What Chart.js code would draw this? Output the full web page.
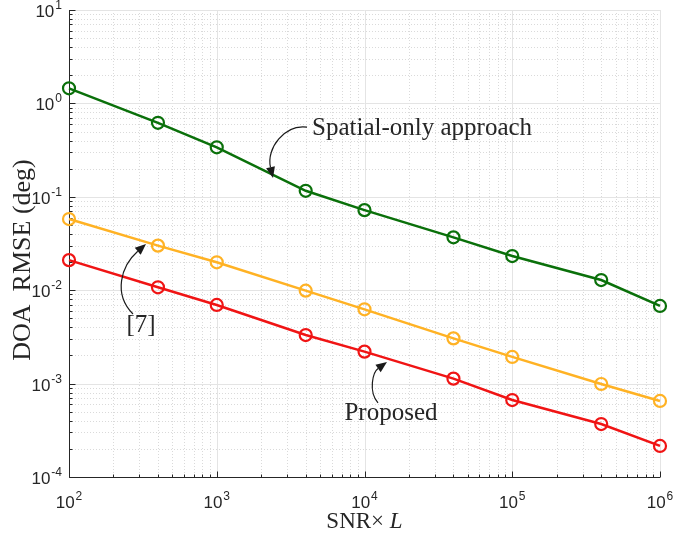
<!DOCTYPE html>
<html>
<head>
<meta charset="utf-8">
<script src="https://cdn.jsdelivr.net/npm/chart.js@4.4.0/dist/chart.umd.min.js"></script>
<style>
body { margin: 0; background: #fff; }
</style>
</head>
<body>
<canvas id="myChart" width="674" height="535"></canvas>
<script>
// values (log-log)
var snrL = [1e2, 4e2, 1e3, 4e3, 1e4, 4e4, 1e5, 4e5, 1e6];
var spatialOnly = [1.45, 0.62, 0.339, 0.116, 0.072, 0.0368, 0.0232, 0.01285, 0.00678];
var ref7 = [0.0578, 0.030, 0.0199, 0.00989, 0.00624, 0.00305, 0.00193, 0.00099, 0.000652];
var proposed = [0.021, 0.01074, 0.00695, 0.00331, 0.0022, 0.00113, 0.000667, 0.000369, 0.000215];
var xTickExps = [2, 3, 4, 5, 6];
var yTickExps = [1, 0, -1, -2, -3, -4];

// annotation anchors, in data units
var notes = [
    { text: 'Spatial-only approach', tx: 4415, ty: 0.545, align: 'left',
      sx: 4083, sy: 0.556, ex: 2403, ey: 0.159, c1: [-22, -3], c2: [-7, -30] },
    { text: '[7]', tx: 307, ty: 0.00424, align: 'center',
      sx: 271, sy: 0.00556, ex: 332, ey: 0.03125, c1: [-20, -20], c2: [-25, 22] },
    { text: 'Proposed', tx: 15110, ty: 0.000484, align: 'center',
      sx: 12340, sy: 0.00062, ex: 14200, ey: 0.0017, c1: [-10, -12], c2: [-14, 10] }
];

function pts(arr) {
    return snrL.map(function (x, i) { return { x: x, y: arr[i] }; });
}

var axisColor = '#262626';

function drawPow(ctx, x, y, exp, align) {
    // "10" with a raised exponent; align = 'right' or 'center'
    ctx.font = '17px "Liberation Sans", Arial, sans-serif';
    var wBase = ctx.measureText('10').width;
    ctx.font = '12px "Liberation Sans", Arial, sans-serif';
    var wExp = ctx.measureText(String(exp)).width;
    var total = wBase + wExp + 1;
    var left = align === 'right' ? x - total : x - total / 2;
    ctx.textAlign = 'left';
    ctx.textBaseline = 'alphabetic';
    ctx.font = '17px "Liberation Sans", Arial, sans-serif';
    ctx.fillText('10', left, y);
    ctx.font = '12px "Liberation Sans", Arial, sans-serif';
    ctx.fillText(String(exp), left + wBase + 1, y - 8);
}

var matlabAxes = {
    id: 'matlabAxes',
    beforeDraw: function (chart) {
        var ctx = chart.ctx;
        ctx.save();
        ctx.fillStyle = '#fff';
        ctx.fillRect(0, 0, chart.width, chart.height);
        ctx.restore();
    },
    beforeDatasetsDraw: function (chart) {
        var ctx = chart.ctx, a = chart.chartArea;
        var xs = chart.scales.x, ys = chart.scales.y;
        ctx.save();
        ctx.lineWidth = 1;
        // minor grid, dotted
        ctx.strokeStyle = '#dadada';
        ctx.setLineDash([1, 2]);
        for (var e = 2; e < 6; e++) {
            for (var m = 2; m < 10; m++) {
                var px = Math.round(xs.getPixelForValue(m * Math.pow(10, e))) + 0.5;
                ctx.beginPath(); ctx.moveTo(px, a.top); ctx.lineTo(px, a.bottom); ctx.stroke();
            }
        }
        for (var e2 = -4; e2 < 1; e2++) {
            for (var m2 = 2; m2 < 10; m2++) {
                var py = Math.round(ys.getPixelForValue(m2 * Math.pow(10, e2))) + 0.5;
                ctx.beginPath(); ctx.moveTo(a.left, py); ctx.lineTo(a.right, py); ctx.stroke();
            }
        }
        // major grid
        ctx.setLineDash([]);
        ctx.strokeStyle = '#e4e4e4';
        xTickExps.forEach(function (ex) {
            var px = Math.round(xs.getPixelForValue(Math.pow(10, ex))) + 0.5;
            ctx.beginPath(); ctx.moveTo(px, a.top); ctx.lineTo(px, a.bottom); ctx.stroke();
        });
        yTickExps.forEach(function (ey) {
            var py = Math.round(ys.getPixelForValue(Math.pow(10, ey))) + 0.5;
            ctx.beginPath(); ctx.moveTo(a.left, py); ctx.lineTo(a.right, py); ctx.stroke();
        });

        // axis lines + inward ticks
        ctx.strokeStyle = axisColor;
        var L = Math.round(a.left) + 0.5, B = Math.round(a.bottom) + 0.5;
        ctx.beginPath(); ctx.moveTo(L, a.top); ctx.lineTo(L, B); ctx.lineTo(a.right, B); ctx.stroke();
        for (var e3 = 2; e3 < 7; e3++) {
            for (var m3 = 1; m3 < 10; m3++) {
                if (e3 === 6 && m3 > 1) break;
                var tx = Math.round(xs.getPixelForValue(m3 * Math.pow(10, e3))) + 0.5;
                var len = m3 === 1 ? 6 : 3;
                ctx.beginPath(); ctx.moveTo(tx, B); ctx.lineTo(tx, B - len); ctx.stroke();
            }
        }
        for (var e4 = -4; e4 < 2; e4++) {
            for (var m4 = 1; m4 < 10; m4++) {
                if (e4 === 1 && m4 > 1) break;
                var ty = Math.round(ys.getPixelForValue(m4 * Math.pow(10, e4))) + 0.5;
                var len2 = m4 === 1 ? 6 : 3;
                ctx.beginPath(); ctx.moveTo(L, ty); ctx.lineTo(L + len2, ty); ctx.stroke();
            }
        }

        // tick labels
        ctx.fillStyle = axisColor;
        xTickExps.forEach(function (ex) {
            drawPow(ctx, xs.getPixelForValue(Math.pow(10, ex)), a.bottom + 31, ex, 'center');
        });
        yTickExps.forEach(function (ey) {
            drawPow(ctx, a.left - 7, ys.getPixelForValue(Math.pow(10, ey)) + 7, ey, 'right');
        });

        // axis titles
        ctx.font = '23px "Liberation Serif", "Times New Roman", serif';
        var xt = 'SNR\u00d7 ', xw = ctx.measureText(xt).width;
        ctx.font = 'italic 23px "Liberation Serif", "Times New Roman", serif';
        var lw = ctx.measureText('L').width;
        var cx = (a.left + a.right) / 2 - (xw + lw) / 2;
        ctx.textAlign = 'left';
        ctx.font = '23px "Liberation Serif", "Times New Roman", serif';
        ctx.fillText(xt, cx, 528);
        ctx.font = 'italic 23px "Liberation Serif", "Times New Roman", serif';
        ctx.fillText('L', cx + xw, 528);

        ctx.save();
        ctx.translate(30, 260);
        ctx.rotate(-Math.PI / 2);
        ctx.textAlign = 'center';
        ctx.font = '26px "Liberation Serif", "Times New Roman", serif';
        ctx.fillText('DOA  RMSE (deg)', 0, 0);
        ctx.restore();
        ctx.restore();
    },
    afterDatasetsDraw: function (chart) {
        var ctx = chart.ctx;
        var xs = chart.scales.x, ys = chart.scales.y;
        ctx.save();
        notes.forEach(function (n) {
            var sx = xs.getPixelForValue(n.sx), sy = ys.getPixelForValue(n.sy);
            var ex = xs.getPixelForValue(n.ex), ey = ys.getPixelForValue(n.ey);
            var c1x = sx + n.c1[0], c1y = sy + n.c1[1];
            var c2x = ex + n.c2[0], c2y = ey + n.c2[1];
            var ang = Math.atan2(ey - c2y, ex - c2x);
            var hl = 11, hw = 4.5;
            var bx = ex - hl * Math.cos(ang), by = ey - hl * Math.sin(ang);
            ctx.strokeStyle = '#1a1a1a';
            ctx.lineWidth = 1.2;
            ctx.beginPath();
            ctx.moveTo(sx, sy);
            ctx.bezierCurveTo(c1x, c1y, c2x, c2y, bx, by);
            ctx.stroke();
            ctx.fillStyle = '#1a1a1a';
            ctx.beginPath();
            ctx.moveTo(ex, ey);
            ctx.lineTo(bx - hw * Math.sin(ang), by + hw * Math.cos(ang));
            ctx.lineTo(bx + hw * Math.sin(ang), by - hw * Math.cos(ang));
            ctx.closePath();
            ctx.fill();

            ctx.fillStyle = '#262626';
            ctx.font = '25px "Liberation Serif", "Times New Roman", serif';
            ctx.textAlign = n.align;
            ctx.textBaseline = 'middle';
            ctx.fillText(n.text, xs.getPixelForValue(n.tx), ys.getPixelForValue(n.ty));
        });
        ctx.restore();
    }
};

function lineSet(arr, color) {
    return {
        data: pts(arr),
        borderColor: color,
        borderWidth: 2.5,
        pointRadius: 6,
        pointBorderWidth: 2.2,
        pointBorderColor: color,
        pointBackgroundColor: 'rgba(0,0,0,0)',
        tension: 0,
        clip: false
    };
}

document.addEventListener("DOMContentLoaded", function () {
    var ctx = document.getElementById('myChart').getContext('2d');
    new Chart(ctx, {
        type: 'line',
        data: {
            datasets: [
                lineSet(spatialOnly, '#0a700a'),
                lineSet(ref7, '#ffb224'),
                lineSet(proposed, '#f01414')
            ]
        },
        options: {
            responsive: false,
            animation: false,
            events: [],
            layout: { padding: { left: 69, right: 14, top: 10, bottom: 58 } },
            plugins: { legend: { display: false }, tooltip: { enabled: false } },
            scales: {
                x: { type: 'logarithmic', min: 1e2, max: 1e6, display: false },
                y: { type: 'logarithmic', min: 1e-4, max: 1e1, display: false }
            }
        },
        plugins: [matlabAxes]
    });
});
</script>
</body>
</html>
